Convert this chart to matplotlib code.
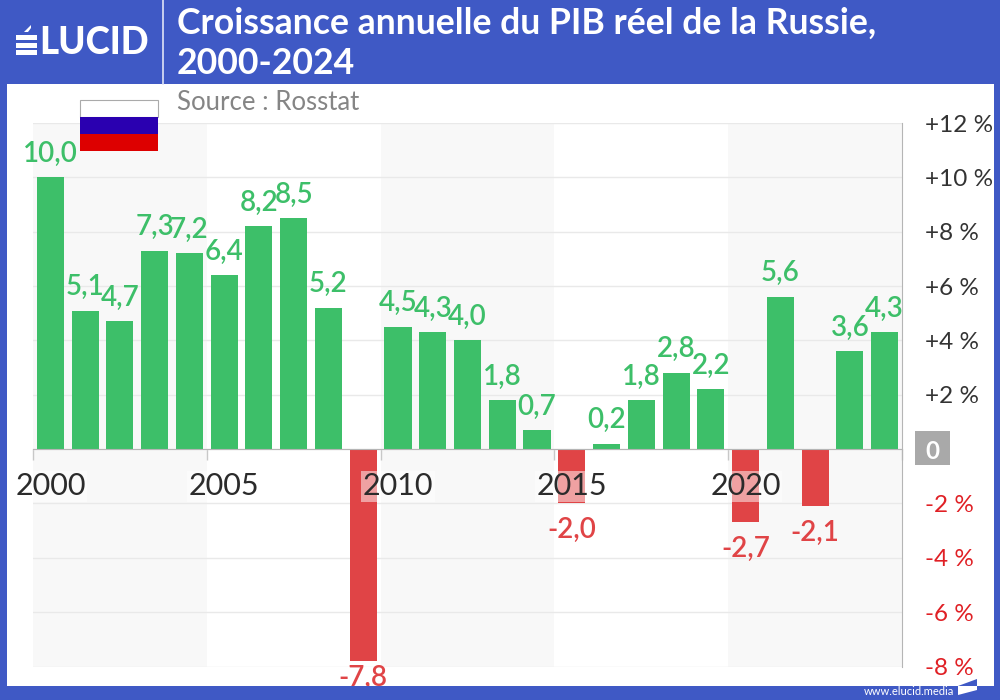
#!/usr/bin/env python3
"""Croissance annuelle du PIB reel de la Russie, bar chart with Elucid frame."""

import matplotlib
matplotlib.use("Agg")
import matplotlib.pyplot as plt
from matplotlib.patches import Rectangle, Polygon

years = list(range(2000, 2025))
growth = [10.0, 5.1, 4.7, 7.3, 7.2, 6.4, 8.2, 8.5, 5.2, -7.8, 4.5, 4.3, 4.0,
          1.8, 0.7, -2.0, 0.2, 1.8, 2.8, 2.2, -2.7, 5.6, -2.1, 3.6, 4.3]
tick_years = [2000, 2005, 2010, 2015, 2020]
y_ticks = [-8, -6, -4, -2, 0, 2, 4, 6, 8, 10, 12]
y_labels = ["-8 %", "-6 %", "-4 %", "-2 %", "0", "+2 %", "+4 %", "+6 %", "+8 %", "+10 %", "+12 %"]

BLUE = "#3f59c5"
GREEN = "#3dbf69"
RED = "#e04446"
BAND = "#f8f8f8"
GRID = "#e9e9e9"

plt.rcParams["font.family"] = ["Lato", "DejaVu Sans"]

fig = plt.figure(figsize=(10, 7), dpi=100, facecolor=BLUE)

# white panel behind the chart, coordinates in pixels
bg = fig.add_axes([0, 0, 1, 1], zorder=0)
bg.set_xlim(0, 1000)
bg.set_ylim(700, 0)
bg.axis("off")
bg.add_patch(Rectangle((7, 84), 987, 610, color="white", lw=0))
bg.add_patch(Rectangle((915, 431), 35, 34, color="#a9a9a9", lw=0))

ax = fig.add_axes([33 / 1000, 1 - 666.5 / 700, (902 - 33) / 1000, (666.5 - 123) / 700], zorder=1)
ax.patch.set_alpha(0)
ax.set_xlim(2000, 2025)
ax.set_ylim(-8, 12)

for start in [2000, 2010, 2020]:
    ax.axvspan(start, start + 5, color=BAND, lw=0, zorder=0)

ax.set_axisbelow(True)
ax.grid(True, axis="y", color=GRID, linewidth=1)
ax.grid(False, axis="x")

positions = [y + 0.5 for y in years]
colors = [GREEN if v >= 0 else RED for v in growth]
ax.bar(positions, growth, width=0.78, color=colors, linewidth=0, zorder=2)

# value labels
for pos, val in zip(positions, growth):
    if val >= 0:
        offset = 17
    elif val < -5:
        offset = -12
    else:
        offset = -19
    ax.annotate(f"{val:.1f}".replace(".", ","), (pos, val), xytext=(0, offset),
                textcoords="offset points", ha="center", va="center",
                fontsize=20, fontweight=600, color=GREEN if val >= 0 else RED,
                zorder=5, annotation_clip=False)

# axes
for name in ["top", "left"]:
    ax.spines[name].set_visible(False)
ax.spines["bottom"].set_position(("data", 0))
ax.spines["bottom"].set_color("#b5b5b5")
ax.spines["bottom"].set_zorder(3)
ax.spines["right"].set_color("#b5b5b5")

ax.set_xticks(tick_years + [2025])
ax.tick_params(axis="x", length=8, width=1, color="#c8c8c8", labelbottom=False)

for year in tick_years:
    ax.text(year + 0.5, -1.36, str(year), ha="center", va="center", fontsize=22,
            color="#2b2b2b", zorder=6,
            bbox=dict(facecolor="white", alpha=0.5, edgecolor="none", pad=1))

ax.yaxis.tick_right()
ax.set_yticks(y_ticks)
ax.set_yticklabels(y_labels, fontsize=17.5)
ax.tick_params(axis="y", length=0, pad=16.5)
for tick, val in zip(ax.get_yticklabels(), y_ticks):
    if val < 0:
        tick.set_color("#e02025")
    elif val == 0:
        tick.set_color("white")
        tick.set_fontweight("bold")
    else:
        tick.set_color("#333333")

# header, footer and flag on top of everything
top = fig.add_axes([0, 0, 1, 1], zorder=2)
top.set_xlim(0, 1000)
top.set_ylim(700, 0)
top.axis("off")
top.add_patch(Rectangle((0, 686), 1000, 14, color=BLUE, lw=0))
top.plot([163, 163], [0, 84], color="#dfe4f6", lw=1.2)

# logo: the E is drawn as three bars with a slanted accent
for bar_y in [35, 43, 50]:
    top.add_patch(Rectangle((16, bar_y), 21, 5, color="white", lw=0))
top.add_patch(Polygon([(24, 32), (31, 25), (31, 28), (28, 32)], color="white", lw=0))
top.text(39, 43.5, "LUCID", color="white", fontsize=26.5, fontweight="black", va="center", ha="left")

top.text(177, 43, "Croissance annuelle du PIB réel de la Russie,\n2000-2024", color="white",
         fontsize=25.7, fontweight="bold", va="center", ha="left", linespacing=1.26)
top.text(177, 102, "Source : Rosstat", color="#858585", fontsize=18.5, va="center", ha="left")
top.text(954, 691.5, "www.elucid.media", color="white", fontsize=8, va="center", ha="right")
top.add_patch(Polygon([(958, 686), (977, 679), (977, 686)], color=BLUE, lw=0))
top.add_patch(Polygon([(958, 686), (977, 686), (977, 690), (958, 695)], color="white", lw=0))

top.add_patch(Rectangle((80, 100), 78, 17, facecolor="white", edgecolor="#aaaaaa", lw=0.8))
top.add_patch(Rectangle((80, 117), 78, 17, facecolor="#2a00b0", lw=0))
top.add_patch(Rectangle((80, 134), 78, 17, facecolor="#dd0000", lw=0))

fig.savefig("out.png", dpi=100, facecolor=BLUE)
